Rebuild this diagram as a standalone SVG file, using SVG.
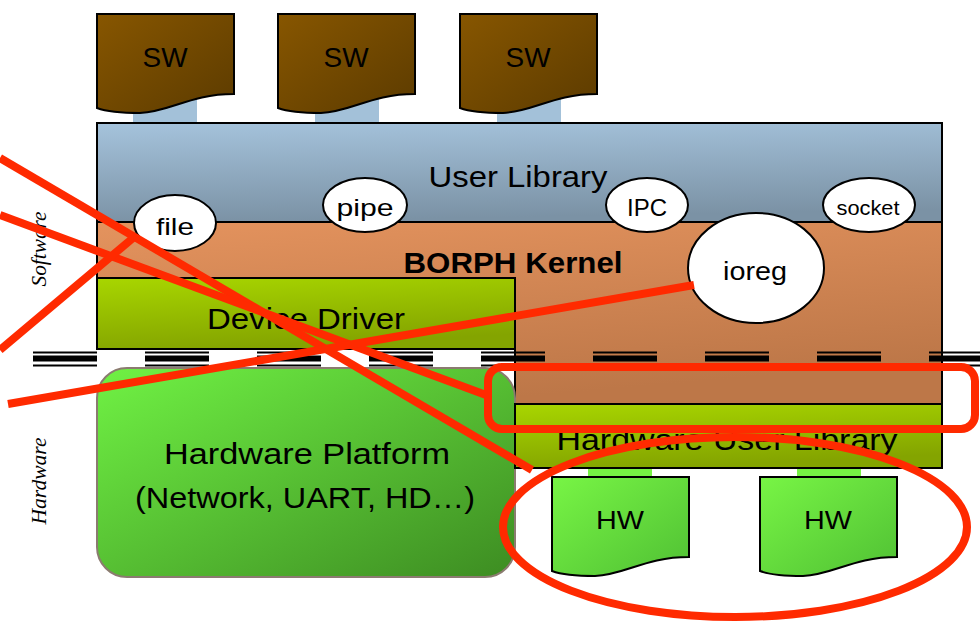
<svg xmlns="http://www.w3.org/2000/svg" width="980" height="621" viewBox="0 0 980 621">
<style>
.lbl{font-family:"Liberation Sans","DejaVu Sans",sans-serif;fill:#000;text-anchor:middle}
.side{font-family:"Liberation Serif",serif;font-style:italic;font-size:21px;fill:#000;text-anchor:middle}
.box{stroke:#000;stroke-width:2}
.bub{fill:#fff;stroke:#000;stroke-width:2}
.red{fill:none;stroke:#ff2a00;stroke-width:8}
</style>
<defs>
<linearGradient id="gSW" x1="0" y1="0" x2="1" y2="1"><stop offset="0" stop-color="#875600"/><stop offset="1" stop-color="#5c3b00"/></linearGradient>
<linearGradient id="gUL" x1="0" y1="0" x2="0.15" y2="1"><stop offset="0" stop-color="#a5c3dc"/><stop offset="1" stop-color="#7b92a5"/></linearGradient>
<linearGradient id="gK" x1="0" y1="0" x2="0.4" y2="1"><stop offset="0" stop-color="#e4935e"/><stop offset="1" stop-color="#bd7748"/></linearGradient>
<linearGradient id="gDD" x1="0" y1="0" x2="0.3" y2="1"><stop offset="0" stop-color="#a8d600"/><stop offset="1" stop-color="#84a400"/></linearGradient>
<linearGradient id="gHP" x1="0" y1="0" x2="1" y2="1"><stop offset="0" stop-color="#70f244"/><stop offset="1" stop-color="#3d8c22"/></linearGradient>
<linearGradient id="gHW" x1="0" y1="0" x2="1" y2="1"><stop offset="0" stop-color="#78f545"/><stop offset="1" stop-color="#50c034"/></linearGradient>
<path id="doc" d="M0,0 H137 V80 C93,80 73,98 43,99 C23,99 8,97 0,94 Z"/>
</defs>

<g id="connectors">
<rect x="133" y="96" width="64" height="27" fill="#a3c1d9"/>
<rect x="315" y="96" width="64" height="27" fill="#a3c1d9"/>
<rect x="497" y="96" width="64" height="27" fill="#a3c1d9"/>
<rect x="588" y="467" width="64" height="11" fill="#76f244"/>
<rect x="797" y="467" width="64" height="11" fill="#76f244"/>
</g>

<g id="sw1"><use href="#doc" transform="translate(97,14)" fill="url(#gSW)" class="box"/><text class="lbl" x="165" y="67" font-size="27" textLength="45" lengthAdjust="spacingAndGlyphs">SW</text></g>
<g id="sw2"><use href="#doc" transform="translate(278,14)" fill="url(#gSW)" class="box"/><text class="lbl" x="346" y="67" font-size="27" textLength="45" lengthAdjust="spacingAndGlyphs">SW</text></g>
<g id="sw3"><use href="#doc" transform="translate(460,14)" fill="url(#gSW)" class="box"/><text class="lbl" x="528" y="67" font-size="27" textLength="45" lengthAdjust="spacingAndGlyphs">SW</text></g>

<g id="userlib"><rect x="97" y="123" width="845" height="99" fill="url(#gUL)" class="box"/><text class="lbl" x="518" y="187" font-size="30" textLength="179" lengthAdjust="spacingAndGlyphs">User Library</text></g>

<g id="kernel"><path d="M97,222 H942 V404 H515 V278 H97 Z" fill="url(#gK)" class="box"/><text class="lbl" x="513" y="273" font-size="29" font-weight="bold" textLength="219" lengthAdjust="spacingAndGlyphs">BORPH Kernel</text></g>

<g id="devdriver"><rect x="97" y="278" width="418" height="71" fill="url(#gDD)" class="box"/><text class="lbl" x="306" y="329" font-size="29" textLength="198" lengthAdjust="spacingAndGlyphs">Device Driver</text></g>

<g id="dashes" stroke="#000" stroke-dasharray="64 48">
<line x1="33" y1="352.5" x2="980" y2="352.5" stroke-width="2"/>
<line x1="33" y1="358.5" x2="980" y2="358.5" stroke-width="6"/>
<line x1="33" y1="365.5" x2="980" y2="365.5" stroke-width="2"/>
</g>

<g id="hwplatform"><rect x="97" y="368" width="418" height="209" rx="30" fill="url(#gHP)" stroke="#8b7b70" stroke-width="2"/><text class="lbl" x="307" y="464" font-size="29" textLength="286" lengthAdjust="spacingAndGlyphs">Hardware Platform</text><text class="lbl" x="305" y="508" font-size="29" textLength="340" lengthAdjust="spacingAndGlyphs">(Network, UART, HD…)</text></g>

<g id="hwuserlib"><rect x="515" y="404" width="427" height="64" fill="url(#gDD)" class="box"/><text class="lbl" x="727" y="450" font-size="29" textLength="341" lengthAdjust="spacingAndGlyphs">Hardware User Library</text></g>

<g id="hw1"><use href="#doc" transform="translate(552,477)" fill="url(#gHW)" class="box"/><text class="lbl" x="620" y="529" font-size="26" textLength="48" lengthAdjust="spacingAndGlyphs">HW</text></g>
<g id="hw2"><use href="#doc" transform="translate(760,477)" fill="url(#gHW)" class="box"/><text class="lbl" x="828" y="529" font-size="26" textLength="48" lengthAdjust="spacingAndGlyphs">HW</text></g>

<g id="file"><ellipse cx="175" cy="223" rx="41" ry="28" class="bub"/><text class="lbl" x="175" y="235" font-size="24" textLength="38" lengthAdjust="spacingAndGlyphs">file</text></g>
<g id="pipe"><ellipse cx="365" cy="205" rx="42" ry="27" class="bub"/><text class="lbl" x="365" y="216" font-size="24" textLength="57" lengthAdjust="spacingAndGlyphs">pipe</text></g>
<g id="ipc"><ellipse cx="647" cy="205" rx="41" ry="27" class="bub"/><text class="lbl" x="647" y="216" font-size="24" textLength="40" lengthAdjust="spacingAndGlyphs">IPC</text></g>
<g id="socket"><ellipse cx="869" cy="205" rx="46" ry="27" class="bub"/><text class="lbl" x="868" y="215" font-size="20" textLength="63" lengthAdjust="spacingAndGlyphs">socket</text></g>
<g id="ioreg"><ellipse cx="756" cy="268" rx="68" ry="55" class="bub"/><text class="lbl" x="755" y="280" font-size="26" textLength="64" lengthAdjust="spacingAndGlyphs">ioreg</text></g>

<text class="side" transform="translate(46,249) rotate(-90)" textLength="75" lengthAdjust="spacingAndGlyphs">Software</text>
<text class="side" transform="translate(46,481) rotate(-90)" textLength="87" lengthAdjust="spacingAndGlyphs">Hardware</text>

<g id="annotations">
<line class="red" x1="0" y1="158" x2="532" y2="470"/>
<line class="red" x1="0" y1="215" x2="486" y2="395"/>
<line class="red" x1="0" y1="350" x2="133" y2="238"/>
<line class="red" x1="8" y1="404" x2="694" y2="285"/>
<rect class="red" x="488" y="367" width="487" height="62" rx="14"/>
<ellipse class="red" cx="735" cy="527" rx="232" ry="90"/>
</g>
</svg>
